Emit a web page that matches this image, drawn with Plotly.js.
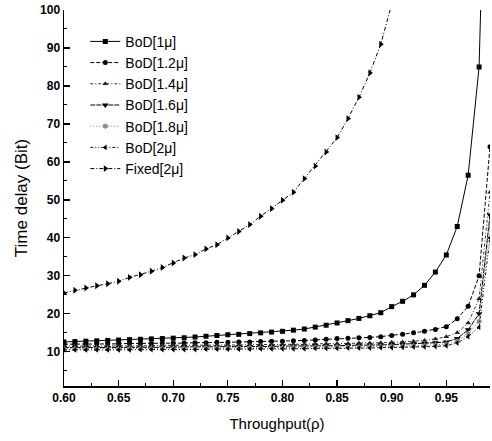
<!DOCTYPE html>
<html><head><meta charset="utf-8">
<script src="https://cdn.plot.ly/plotly-3.0.1.min.js"></script>
<style>html,body{margin:0;padding:0;background:#fff}#chart{width:492px;height:441px}</style>
</head><body><div id="chart"></div>
<script>
const rho = [0.60,0.61,0.62,0.63,0.64,0.65,0.66,0.67,0.68,0.69,
             0.70,0.71,0.72,0.73,0.74,0.75,0.76,0.77,0.78,0.79,
             0.80,0.81,0.82,0.83,0.84,0.85,0.86,0.87,0.88,0.89,
             0.90,0.91,0.92,0.93,0.94,0.95,0.96,0.97,0.98,0.99];

const bod1 = [12.6,12.7,12.8,12.9,13.0,13.1,13.2,13.3,13.4,13.5,
              13.6,13.7,13.9,14.1,14.3,14.5,14.6,14.8,15.0,15.2,
              15.4,15.7,16.0,16.5,17.0,17.6,18.2,18.8,19.5,20.3,
              21.9,23.3,25.0,27.5,31.0,35.5,43.0,56.5,85.0,190];
const bod12 = [12.0,12.0,12.0,12.1,12.1,12.1,12.2,12.2,12.2,12.3,
               12.3,12.3,12.4,12.4,12.5,12.5,12.6,12.6,12.7,12.8,
               12.8,12.9,13.0,13.1,13.3,13.5,13.6,13.7,13.8,14.0,
               14.3,14.6,15.0,15.4,15.9,16.6,18.7,22.0,30.0,64.0];
const bod14 = [11.5,11.5,11.5,11.5,11.6,11.6,11.6,11.6,11.6,11.7,
               11.7,11.7,11.7,11.8,11.8,11.8,11.8,11.9,11.9,11.9,
               12.0,12.0,12.0,12.1,12.1,12.2,12.2,12.3,12.3,12.4,
               12.5,12.6,12.8,13.0,13.4,14.0,15.0,17.6,24.0,52.0];
const bod16 = [11.1,11.1,11.1,11.1,11.1,11.2,11.2,11.2,11.2,11.2,
               11.2,11.3,11.3,11.3,11.3,11.3,11.4,11.4,11.4,11.4,
               11.5,11.5,11.5,11.6,11.6,11.6,11.7,11.7,11.8,11.8,
               11.9,12.0,12.1,12.2,12.4,12.6,13.5,15.8,20.0,46.0];
const bod18 = [10.8,10.8,10.8,10.8,10.8,10.8,10.9,10.9,10.9,10.9,
               10.9,10.9,11.0,11.0,11.0,11.0,11.0,11.1,11.1,11.1,
               11.1,11.2,11.2,11.2,11.2,11.3,11.3,11.3,11.4,11.4,
               11.5,11.5,11.6,11.7,11.8,12.0,12.8,14.8,18.0,43.0];
const bod2 = [10.5,10.5,10.5,10.5,10.5,10.5,10.5,10.6,10.6,10.6,
              10.6,10.6,10.6,10.7,10.7,10.7,10.7,10.7,10.8,10.8,
              10.8,10.8,10.8,10.9,10.9,10.9,11.0,11.0,11.0,11.1,
              11.1,11.2,11.3,11.3,11.4,11.6,12.3,14.0,16.5,40.0];
const rhoFixed = [0.60,0.61,0.62,0.63,0.64,0.65,0.66,0.67,0.68,0.69,
                  0.70,0.71,0.72,0.73,0.74,0.75,0.76,0.77,0.78,0.79,
                  0.80,0.81,0.82,0.83,0.84,0.85,0.86,0.87,0.88,0.89,0.90];
const fixed2 = [25.5,26.2,26.8,27.4,27.9,28.6,29.6,30.3,31.2,32.2,
                33.4,34.7,35.6,37.1,38.2,40.0,41.7,43.5,45.7,47.7,
                49.9,52.0,55.6,58.9,62.6,66.4,71.4,77.0,83.4,91.0,101.5];

const seriesNames = ['BoD[1μ]','BoD[1.2μ]','BoD[1.4μ]','BoD[1.6μ]','BoD[1.8μ]','BoD[2μ]','Fixed[2μ]'];
const seriesX = [rho, rho, rho, rho, rho, rho, rhoFixed];
const seriesY = [bod1, bod12, bod14, bod16, bod18, bod2, fixed2];

const yTickVals = [10,20,30,40,50,60,70,80,90,100];
const xTickVals = [0.60,0.65,0.70,0.75,0.80,0.85,0.90,0.95];

const styles = [
  {dash:'solid', symbol:'square', color:'#000', mcolor:'#000', size:5},
  {dash:'4px,2px', symbol:'circle', color:'#000', mcolor:'#000', size:5},
  {dash:'3px,2px,1px,2px', symbol:'triangle-up', color:'#333', mcolor:'#222', size:5},
  {dash:'5px,1px', symbol:'triangle-down', color:'#000', mcolor:'#000', size:6},
  {dash:'1px,2px', symbol:'hexagram', color:'#777', mcolor:'#888', size:5},
  {dash:'3px,2px,1px,2px,1px,2px', symbol:'triangle-left', color:'#111', mcolor:'#000', size:5},
  {dash:'4px,2px,1px,2px', symbol:'triangle-right', color:'#000', mcolor:'#000', size:6}
];

const traces = seriesNames.map((name, i) => ({
  type: 'scatter', mode: 'lines+markers', name: name,
  x: seriesX[i], y: seriesY[i],
  line: {color: styles[i].color, width: 1, dash: styles[i].dash},
  marker: {symbol: styles[i].symbol, size: styles[i].size, color: styles[i].mcolor}
}));

const tickFont = {family: 'Liberation Sans, Arial, sans-serif', size: 12, color: '#000', weight: 'bold'};

const layout = {
  width: 492, height: 441,
  margin: {l: 64, r: 2, t: 10, b: 55},
  paper_bgcolor: '#fff', plot_bgcolor: '#fff',
  showlegend: true,
  legend: {
    x: 0.05, y: 0.958, xanchor: 'left', yanchor: 'top',
    bgcolor: 'rgba(0,0,0,0)', borderwidth: 0,
    font: {family: 'Liberation Sans, Arial, sans-serif', size: 14, color: '#000'},
    itemwidth: 30
  },
  xaxis: {
    range: [0.60, 0.99],
    tickvals: xTickVals, tickformat: '.2f',
    ticks: 'inside', ticklen: 6, tickwidth: 1.2, tickcolor: '#000',
    minor: {ticks: 'inside', ticklen: 3, tickwidth: 1, tickcolor: '#000', dtick: 0.025, tick0: 0.6, showgrid: false},
    showline: true, linecolor: '#000', linewidth: 1.5,
    showgrid: false, zeroline: false, mirror: false,
    tickfont: tickFont,
    title: {text: 'Throughput(ρ)', font: {family: 'Liberation Sans, Arial, sans-serif', size: 15, color: '#000'}, standoff: 14}
  },
  yaxis: {
    range: [1, 100],
    tickvals: yTickVals,
    ticks: 'inside', ticklen: 6, tickwidth: 1.2, tickcolor: '#000',
    minor: {ticks: 'inside', ticklen: 3, tickwidth: 1, tickcolor: '#000', dtick: 5, tick0: 0, showgrid: false},
    showline: true, linecolor: '#000', linewidth: 1.5,
    showgrid: false, zeroline: false, mirror: false,
    tickfont: tickFont,
    title: {text: 'Time delay (Bit)', font: {family: 'Liberation Sans, Arial, sans-serif', size: 17, color: '#000'}, standoff: 8}
  }
};

Plotly.newPlot('chart', traces, layout, {displayModeBar: false, staticPlot: true});
</script>
</body></html>
